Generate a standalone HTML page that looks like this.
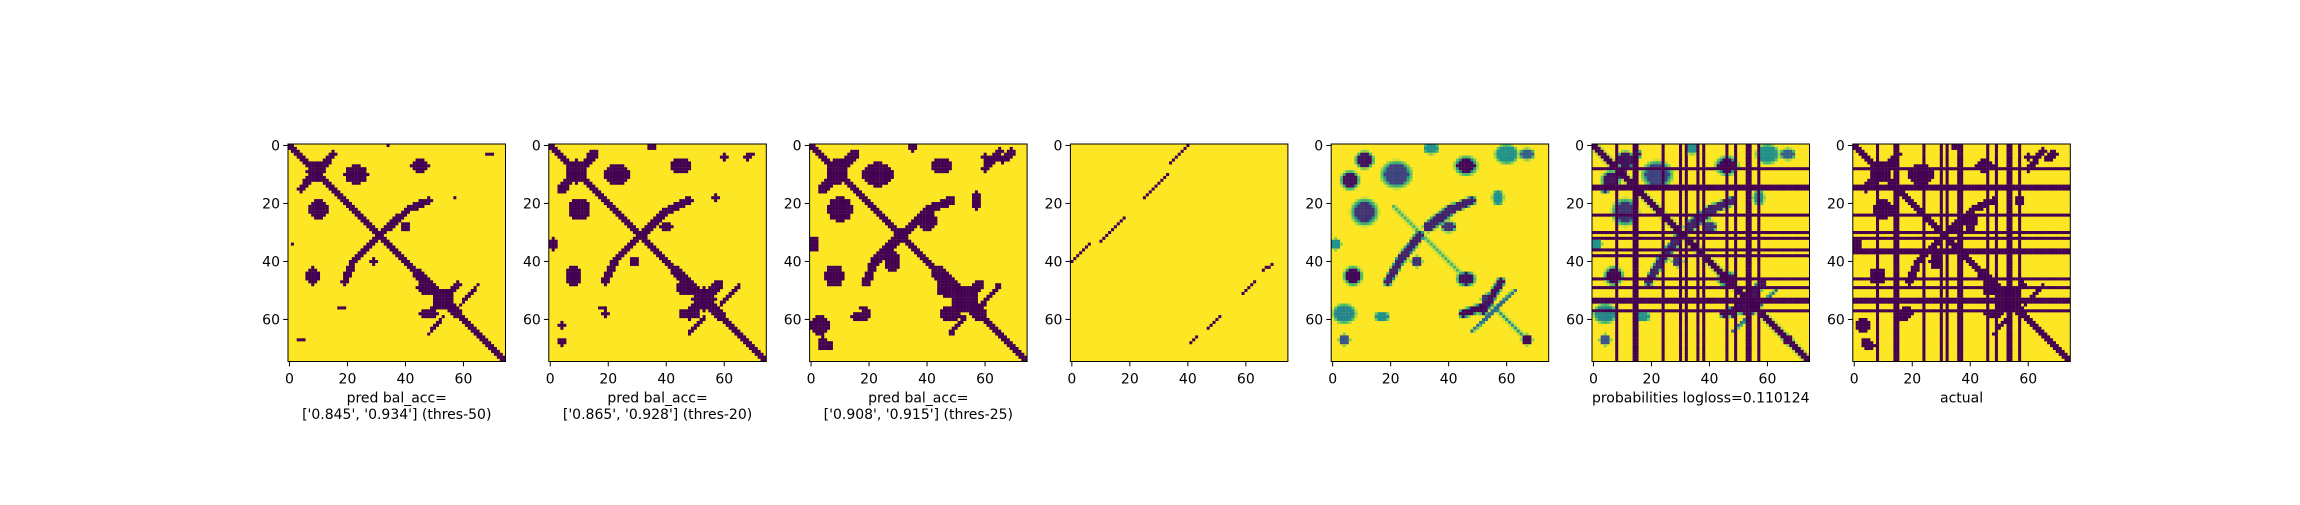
<!DOCTYPE html>
<html><head><meta charset="utf-8"><style>
html,body{margin:0;padding:0;background:#fff;}
svg text{font-family:"DejaVu Sans","Liberation Sans",sans-serif;font-size:14px;fill:#000;}
</style></head><body>
<svg id="fig" width="2300" height="500" xmlns="http://www.w3.org/2000/svg"></svg>
<script>
// ---- data ----
const N = 75;
const ticks = [0, 20, 40, 60];
const titles = [
  ["pred bal_acc=", "['0.845', '0.934'] (thres-50)"],
  ["pred bal_acc=", "['0.865', '0.928'] (thres-20)"],
  ["pred bal_acc=", "['0.908', '0.915'] (thres-25)"],
  [],
  [],
  ["probabilities logloss=0.110124"],
  ["actual"]
];
// features: ['s',r0,c0,r1,c1,width,core] segments ; ['e',r,c,ry,rx,core] ellipses (core = value 0..1)
const featBase = [
  ['s',0,0,74,74,1.0,0],['s',44,44,58,58,1.8,0],
  ['s',3,15,15,4,1.3,0],['e',9,9,3.5,3,0],
  ['s',47,19,40,22,1.2,0],['s',40,22,31,31,1.2,0],['s',31,31,22,41,1.2,0],['s',22,41,19,48,1.2,0],
  ['s',58,48,48,58,1.3,0],['e',53,53,3.5,3.5,0],['e',49,47,2.5,3,0],['e',58,48,1.8,3,0],
  ['s',65,48,59,53,0.6,0],['s',55,59,48,65,0.6,0],
  ['e',10,23,3.3,4,0],['e',7,45,2.3,3,0],['e',22,10,3.3,3.3,0],['e',28,40,1.3,1.8,0],
  ['e',40,29,1.2,1.5,0],['e',45,8,3,2.5,0],['e',3,69,0.8,1,0],['e',18,57,0.8,0.8,0],
  ['e',34,1,0.5,0.5,0],['e',0,34,0.5,0.6,0],['e',56,18,0.7,1,0],['e',67,4,0.8,1.2,0]
];
const feat2 = featBase.concat([
  ['e',4,60,1,1.2,0],['e',4,68,1,1.2,0],['e',18,57,1,1.5,0],['e',34,1,2,1.5,0],
  ['e',58,19,1.2,1.2,0],['e',62,4,1,1.5,0],['e',68,4,1,1.5,0],['e',0.5,35,1.2,1.5,0]
]);
const feat3 = feat2.concat([
  ['s',8,60,2,65,1.0,0],['s',5,66,2,69,0.8,0],['e',19,57,3,1.2,0],['e',62,3,2.5,2.5,0],
  ['e',69,5,1.5,2,0],['e',59,17,1.2,2.5,0],['e',26,40,2.5,2.5,0],['e',40,28,2.5,2,0]
]);
const feat4 = [
  ['s',40,0,34,6,0.5,0],['s',33,10,25,18,0.5,0],['s',18,25,10,33,0.5,0],['s',6,34,0,40,0.5,0],
  ['s',68,41,66,43,0.5,0],['s',63,47,59,51,0.5,0],['s',51,59,47,63,0.5,0],['s',43,66,41,69,0.5,0]
];
const feat5 = [
  ['e',12,6,2.5,2.5,0.05],['e',5,11,2.3,2.5,0.05],['e',10,22,3.5,4,0.2],['e',7,46,2.5,3,0.02],
  ['e',3,60,2.5,3,0.5],['e',3,67,1.5,2,0.3],['e',1,34,1.5,2,0.5],['e',18,57,2,1.5,0.5],
  ['e',23,11,3.5,3.5,0.15],['s',47,19,40,23,1.2,0.1],['s',40,23,31,30,1.3,0.1],['s',28,33,22,41,1.5,0.1],
  ['s',22,41,19,48,1.2,0.1],['e',28,40,1.5,2,0.15],['e',40,29,1.5,1.5,0.15],['e',45,7,2.5,2.5,0.02],
  ['e',46,46,2,2.5,0.05],['s',58,45,56,51,1.2,0.02],['s',57,52,47,58,1.2,0.05],['e',53,53,1.5,1.5,0.15],
  ['s',21,21,45,45,0.5,0.65],['s',64,48,50,63,0.5,0.35],['s',55,55,68,68,0.5,0.5],['e',67,67,1.5,1.5,0.02],
  ['e',58,4,2.5,3,0.45],['e',67,4,1.5,1.5,0.25],['e',59,17,1.2,2,0.5],['e',34,1,1.5,1.5,0.5]
];
const feat6 = feat5.concat([['s',0,0,74,74,1.0,0],['s',3,15,15,4,1.2,0.1],['s',58,48,48,58,1.1,0.05]]);
const feat7 = feat3;
const lineIdx6 = [8,14,15,24,30,32,36,38,46,49,53,54,57];
const lineIdx7 = [8,14,15,24,30,32,36,37,46,49,53,54,57];
const panels = [
  {feat: featBase, lines: [], soft: false},
  {feat: feat2, lines: [], soft: false, grow: 1.15},
  {feat: feat3, lines: [], soft: false, grow: 1.3},
  {feat: feat4, lines: [], soft: false},
  {feat: feat5, lines: [], soft: true},
  {feat: feat6, lines: lineIdx6, soft: true},
  {feat: feat7, lines: lineIdx7, soft: false, grow: 1.05}
];
// ---- drawing ----
const NS = "http://www.w3.org/2000/svg";
const svg = document.getElementById('fig');
const L0 = 288, STEP = 260.8, W = 217.5, TOP = 144;
const cs = W / N;
const stops = [[68,1,84],[59,82,139],[33,145,140],[94,201,98],[253,231,37]];
function viridis(v){
  v = Math.max(0, Math.min(1, v)) * 4;
  const i = Math.min(3, Math.floor(v)), t = v - i;
  const a = stops[i], b = stops[i+1];
  return 'rgb(' + a.map((x,k)=>Math.round(x + (b[k]-x)*t)).join(',') + ')';
}
function segDist(r, c, f){
  const [_, r0, c0, r1, c1] = f;
  const dr = r1-r0, dc = c1-c0, L = dr*dr+dc*dc;
  let t = L ? ((r-r0)*dr + (c-c0)*dc)/L : 0;
  t = Math.max(0, Math.min(1, t));
  return Math.hypot(r-(r0+t*dr), c-(c0+t*dc));
}
function buildGrid(p){
  const g = [];
  const grow = p.grow || 1;
  for (let r=0;r<N;r++){ g.push(new Array(N).fill(1)); }
  for (let r=0;r<N;r++) for (let c=0;c<N;c++){
    let v = 1;
    for (const f of p.feat){
      let d, core;
      if (f[0]==='s'){ d = segDist(r,c,f)/(f[5]*grow); core = f[6]; }
      else { d = Math.hypot((r-f[1])/(f[3]*grow), (c-f[2])/(f[4]*grow)); core = f[5]; }
      let val;
      if (p.soft){
        if (d <= 1) val = core;
        else if (d <= 1.5) val = Math.max(core, 0.45 + 0.55*(d-1)/0.5);
        else val = 1;
      } else val = d <= 1 ? 0 : 1;
      if (val < v) v = val;
    }
    if (p.lines.includes(r) || p.lines.includes(c)) v = 0;
    g[r][c] = Math.min(1, v);
  }
  return g;
}
function el(tag, attrs, parent){
  const e = document.createElementNS(NS, tag);
  for (const k in attrs) e.setAttribute(k, attrs[k]);
  (parent||svg).appendChild(e);
  return e;
}
panels.forEach((p, pi) => {
  const x0 = L0 + pi*STEP;
  const g = el('g', {});
  
  
  const bg = el('rect', {x:x0, y:TOP, width:W, height:W, fill:'#fde725'}, g);
  
  
  const grid = buildGrid(p);
  const xs = c => x0 + c*cs, ys = r => TOP + r*cs;
  for (let r=0;r<N;r++) for (let c=0;c<N;c++){
    const v = grid[r][c];
    if (v >= 0.97) continue;
    const cell = el('rect', {x:xs(c).toFixed(2), y:ys(r).toFixed(2), width:(cs+0.15).toFixed(2), height:(cs+0.15).toFixed(2), fill:viridis(v)}, g);
    
    
  }
  const fr = el('rect', {x:x0, y:TOP, width:W, height:W, fill:'none', stroke:'#000', 'stroke-width':1}, g);
  
  
  ticks.forEach(t => {
    const px = x0 + (t+0.5)*cs, py = TOP + (t+0.5)*cs;
    const tx = el('line', {x1:px, x2:px, y1:TOP+W, y2:TOP+W+4.9, stroke:'#000', 'stroke-width':1}, g);
    
    
    const ty = el('line', {x1:x0-4.9, x2:x0, y1:py, y2:py, stroke:'#000', 'stroke-width':1}, g);
    
    
    const lx = el('text', {x:px, y:TOP+W+22, 'text-anchor':'middle'}, g);
    lx.textContent = t;
    
    
    const ly = el('text', {x:x0-8, y:py+5, 'text-anchor':'end'}, g);
    ly.textContent = t;
    
    
  });
  titles[pi].forEach((line, li) => {
    const tt = el('text', {x:x0+W/2, y:TOP+W+41+li*16.5, 'text-anchor':'middle'}, g);
    tt.textContent = line;
    
    
  });
});
</script>
</body></html>
